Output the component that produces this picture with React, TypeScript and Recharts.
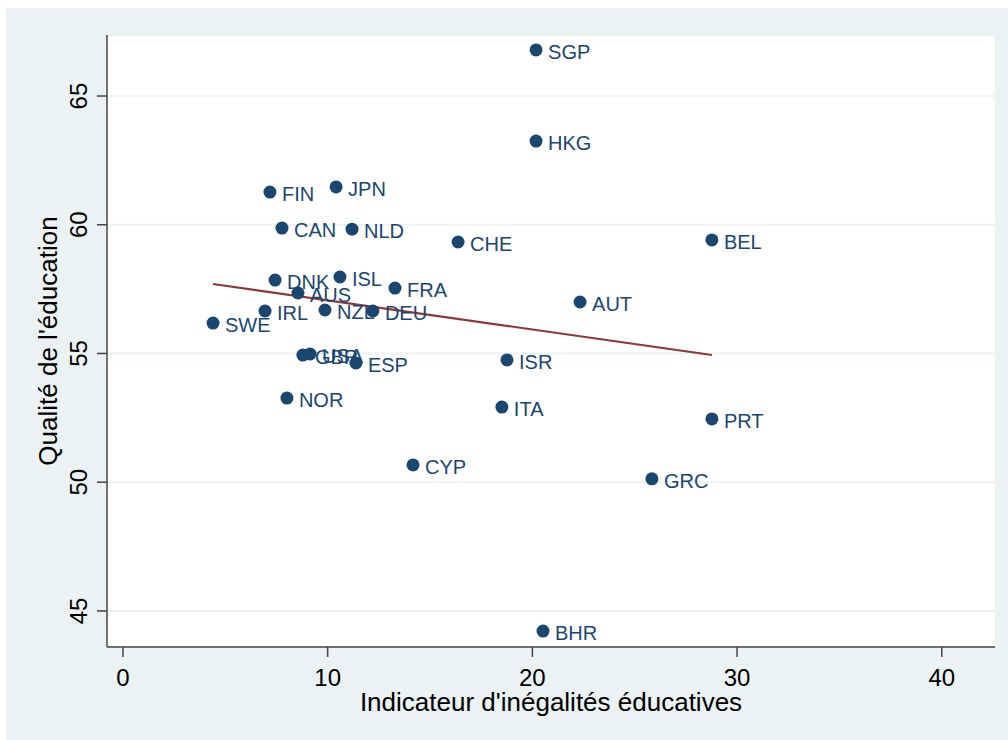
import { ScatterChart, Scatter, XAxis, YAxis, CartesianGrid, ReferenceLine } from 'recharts'

const countries = ['SGP', 'HKG', 'FIN', 'JPN', 'CAN', 'NLD', 'CHE', 'BEL', 'DNK', 'ISL', 'FRA', 'AUS', 'AUT', 'IRL', 'NZL', 'DEU', 'SWE', 'GBR', 'USA', 'ESP', 'ISR', 'NOR', 'ITA', 'PRT', 'CYP', 'GRC', 'BHR']
const inequality = [20.18, 20.18, 7.18, 10.41, 7.77, 11.19, 16.37, 28.77, 7.43, 10.6, 13.29, 8.55, 22.33, 6.94, 9.87, 12.21, 4.4, 8.79, 9.14, 11.38, 18.76, 8.01, 18.51, 28.77, 14.17, 25.84, 20.52]
const quality = [66.79, 63.25, 61.27, 61.47, 59.87, 59.83, 59.33, 59.41, 57.85, 57.97, 57.54, 57.35, 57.0, 56.65, 56.69, 56.65, 56.18, 54.94, 54.98, 54.63, 54.75, 53.27, 52.92, 52.46, 50.67, 50.13, 44.22]
const fitX = [4.4, 28.77]
const fitY = [57.7, 54.94]
const xTicks = [0, 10, 20, 30, 40]
const yTicks = [45, 50, 55, 60, 65]

const points = countries.map((name, i) => ({ name, x: inequality[i], y: quality[i] }))

const NAVY = '#1A476F'
const AXIS = '#444'
const FONT = '"Liberation Sans", Arial, sans-serif'

function Marker(props: any) {
  const { cx, cy, payload } = props
  return (
    <g>
      <circle cx={cx} cy={cy} r={6.5} fill={NAVY} />
      <text x={cx + 12} y={cy + 9} fill={NAVY} fontSize={20} fontFamily={FONT}>{payload.name}</text>
    </g>
  )
}

export default function App() {
  return (
    <div style={{ position: 'absolute', left: 6, top: 8, width: 1002, height: 732, background: '#EAF2F3' }}>
      <ScatterChart width={1002} height={732} margin={{ top: 27, right: 13, bottom: 0, left: 0 }}>
        <CartesianGrid vertical={false} fill="#fff" stroke="#EAF2F3" strokeWidth={2} />
        <XAxis
          type="number"
          dataKey="x"
          domain={[-0.78, 42.6]}
          allowDataOverflow
          ticks={xTicks}
          height={93}
          tickSize={10}
          axisLine={{ stroke: AXIS, strokeWidth: 1.5 }}
          tickLine={{ stroke: AXIS, strokeWidth: 1.5 }}
          tick={({ x, y, payload }: any) => (
            <text x={x} y={y + 27} textAnchor="middle" fontSize={24} fontFamily={FONT} fill="#000">{payload.value}</text>
          )}
          label={({ viewBox }: any) => (
            <text x={viewBox.x + viewBox.width / 2} y={viewBox.y + 64} textAnchor="middle" fontSize={26} fontFamily={FONT} fill="#000">
              Indicateur d'inégalités éducatives
            </text>
          )}
        />
        <YAxis
          type="number"
          dataKey="y"
          domain={[43.6, 67.37]}
          allowDataOverflow
          ticks={yTicks}
          width={101}
          tickSize={10}
          axisLine={{ stroke: AXIS, strokeWidth: 1.5 }}
          tickLine={{ stroke: AXIS, strokeWidth: 1.5 }}
          tick={({ x, y, payload }: any) => (
            <text x={x - 8} y={y} transform={`rotate(-90 ${x - 8} ${y})`} textAnchor="middle" fontSize={24} fontFamily={FONT} fill="#000">{payload.value}</text>
          )}
          label={({ viewBox }: any) => (
            <text x={51} y={viewBox.y + viewBox.height / 2} transform={`rotate(-90 51 ${viewBox.y + viewBox.height / 2})`} textAnchor="middle" fontSize={26} fontFamily={FONT} fill="#000">
              Qualité de l'éducation
            </text>
          )}
        />
        <Scatter data={points} shape={Marker} isAnimationActive={false} />
        <ReferenceLine
          segment={[{ x: fitX[0], y: fitY[0] }, { x: fitX[1], y: fitY[1] }]}
          stroke="#90353B"
          strokeWidth={2.2}
        />
      </ScatterChart>
    </div>
  )
}
